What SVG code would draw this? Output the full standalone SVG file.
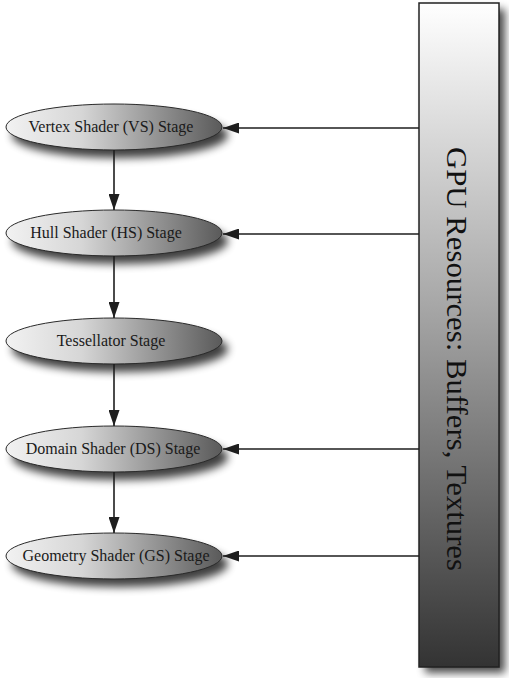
<svg xmlns="http://www.w3.org/2000/svg" width="509" height="678" viewBox="0 0 509 678">
<defs>
<linearGradient id="eg" x1="0" y1="0" x2="1" y2="0">
<stop offset="0" stop-color="#f2f2f2"/>
<stop offset="0.35" stop-color="#d6d6d6"/>
<stop offset="1" stop-color="#5a5a5a"/>
</linearGradient>
<linearGradient id="rg" x1="0" y1="0" x2="0" y2="1">
<stop offset="0" stop-color="#ffffff"/>
<stop offset="0.45" stop-color="#a8a8a8"/>
<stop offset="1" stop-color="#333333"/>
</linearGradient>
<filter id="sh" x="-20%" y="-40%" width="140%" height="200%">
<feGaussianBlur stdDeviation="4"/>
</filter>
<filter id="rsh" x="-30%" y="-5%" width="160%" height="110%">
<feGaussianBlur stdDeviation="4"/>
</filter>
<marker id="ah" viewBox="0 0 16 11" refX="16" refY="5.5" markerWidth="16" markerHeight="11" markerUnits="userSpaceOnUse" orient="auto">
<path d="M0,0 L16,5.5 L0,11 Z" fill="#1e1e1e"/>
</marker>
</defs>
<style>
.node ellipse.body{fill:url(#eg);stroke:#2a2a2a;stroke-width:1}
.shadow{fill:#000;opacity:0.75;filter:url(#sh)}
.lbl{font-family:"Liberation Serif","Times New Roman",serif;font-size:16px;fill:#1a1a1a;text-anchor:middle}
.conn{stroke:#1e1e1e;stroke-width:1.6;fill:none;marker-end:url(#ah)}
</style>

<g id="gpu-resources">
<rect x="425" y="9" width="80" height="664" fill="#000" opacity="0.7" filter="url(#rsh)"/>
<rect x="419" y="3" width="80" height="664" fill="url(#rg)" stroke="#222" stroke-width="1.5"/>
<text transform="translate(447,359) rotate(90)" x="0" y="0" text-anchor="middle" font-family="'Liberation Serif','Times New Roman',serif" font-size="30" fill="#111" textLength="424" lengthAdjust="spacingAndGlyphs">GPU Resources: Buffers, Textures</text>
</g>

<g id="vs-stage" class="node">
<ellipse class="shadow" cx="120" cy="135" rx="108" ry="23"/>
<ellipse class="body" cx="114" cy="127" rx="108" ry="23"/>
<text class="lbl" x="111" y="132">Vertex Shader (VS) Stage</text>
</g>
<g id="hs-stage" class="node">
<ellipse class="shadow" cx="120" cy="241" rx="108" ry="23"/>
<ellipse class="body" cx="114" cy="233" rx="108" ry="23"/>
<text class="lbl" x="106" y="238">Hull Shader (HS) Stage</text>
</g>
<g id="tess-stage" class="node">
<ellipse class="shadow" cx="120" cy="349" rx="108" ry="23"/>
<ellipse class="body" cx="114" cy="341" rx="108" ry="23"/>
<text class="lbl" x="111" y="346">Tessellator Stage</text>
</g>
<g id="ds-stage" class="node">
<ellipse class="shadow" cx="120" cy="457" rx="108" ry="23"/>
<ellipse class="body" cx="114" cy="449" rx="108" ry="23"/>
<text class="lbl" x="113" y="454">Domain Shader (DS) Stage</text>
</g>
<g id="gs-stage" class="node">
<ellipse class="shadow" cx="120" cy="564" rx="108" ry="23"/>
<ellipse class="body" cx="114" cy="556" rx="108" ry="23"/>
<text class="lbl" x="116" y="561">Geometry Shader (GS) Stage</text>
</g>

<g id="connectors">
<line class="conn" x1="114" y1="150" x2="114" y2="210"/>
<line class="conn" x1="114" y1="256" x2="114" y2="318"/>
<line class="conn" x1="114" y1="364" x2="114" y2="426"/>
<line class="conn" x1="114" y1="472" x2="114" y2="533"/>
<line class="conn" x1="419" y1="128" x2="223" y2="128"/>
<line class="conn" x1="419" y1="234" x2="223" y2="234"/>
<line class="conn" x1="419" y1="449" x2="223" y2="449"/>
<line class="conn" x1="419" y1="556" x2="223" y2="556"/>
</g>
</svg>
